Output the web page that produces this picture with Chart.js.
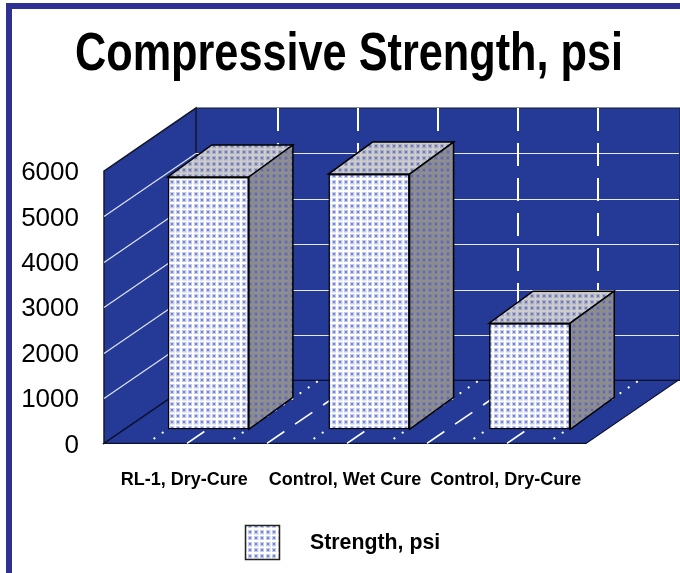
<!DOCTYPE html>
<html>
<head>
<meta charset="utf-8">
<style>
  html, body { margin: 0; padding: 0; background: #fff; }
  canvas { display: block; }
</style>
<script src="https://cdn.jsdelivr.net/npm/chart.js@4"></script>
</head>
<body>
<canvas id="chart_strength" width="680" height="573"></canvas>
<script>
const categories = ["RL-1, Dry-Cure", "Control, Wet Cure", "Control, Dry-Cure"];
const strengthValues = [5560, 5625, 2340];
const seriesName = "Strength, psi";
const chartTitle = "Compressive Strength, psi";

const WALL_BLUE = "#243a96";
const FRAME_BLUE = "#2f3092";
const DEPTH_X = 92, DEPTH_Y = -63;    // how far the back wall sits from the front plane
const BAR_SHIFT_X = 24, BAR_SHIFT_Y = -14;   // bars stand a bit inside the floor
const BAR_DEPTH_X = 44, BAR_DEPTH_Y = -32;

function makePattern(bg, grid, soft, dot){
    const tile = document.createElement("canvas");
    tile.width = 12;
    tile.height = 12;
    const c = tile.getContext("2d");
    c.fillStyle = bg;
    c.fillRect(0, 0, 12, 12);
    c.fillStyle = soft;
    [[2, 2], [8, 2], [2, 8], [8, 8]].forEach(([x, y]) => c.fillRect(x, y, 4, 4));
    c.fillStyle = grid;
    c.fillRect(0, 0, 12, 2);
    c.fillRect(0, 0, 2, 12);
    c.fillRect(7, 0, 1, 12);
    c.fillRect(0, 7, 12, 1);
    c.fillStyle = dot;
    [[3, 3], [9, 3], [3, 9], [9, 9]].forEach(([x, y]) => c.fillRect(x, y, 2, 2));
    return c.createPattern(tile, "repeat");
}

const ctx0 = document.getElementById("chart_strength").getContext("2d");
const frontPattern = makePattern("#e3e7f7", "#ffffff", "#c3cbed", "#7885d2");
const topPattern = makePattern("#bfc0ca", "#cdcdcd", "#a9adc8", "#6e79bb");
const sidePattern = makePattern("#909095", "#8c8c8c", "#7f82a0", "#5f68aa");

function polygon(ctx, pts, fill, stroke, width){
    ctx.beginPath();
    pts.forEach((p, i) => i ? ctx.lineTo(p[0], p[1]) : ctx.moveTo(p[0], p[1]));
    ctx.closePath();
    ctx.fillStyle = fill;
    ctx.fill();
    ctx.strokeStyle = stroke;
    ctx.lineWidth = width;
    ctx.stroke();
}

function strokeLine(ctx, x1, y1, x2, y2, color, width, dash, offset){
    ctx.save();
    ctx.strokeStyle = color;
    ctx.lineWidth = width;
    ctx.setLineDash(dash || []);
    ctx.lineDashOffset = offset || 0;
    ctx.beginPath();
    ctx.moveTo(x1, y1);
    ctx.lineTo(x2, y2);
    ctx.stroke();
    ctx.restore();
}

const roomPlugin = {
    id: "room3d",
    beforeDraw(chart){
        // frame of the slide
        const ctx = chart.ctx;
        ctx.save();
        ctx.fillStyle = FRAME_BLUE;
        ctx.fillRect(6, 3, 674, 6);
        ctx.fillRect(6, 3, 6, 570);
        ctx.restore();
        // title box set to the text's width, the library squeezes the text into it
        chart.titleBlock.left = 75;
        chart.titleBlock.right = 623;
    },
    beforeDatasetsDraw(chart){
        const ctx = chart.ctx;
        const {left, right, top, bottom} = chart.chartArea;
        const y = chart.scales.y;
        ctx.save();

        polygon(ctx, [[left + DEPTH_X, top + DEPTH_Y], [right + DEPTH_X + 2, top + DEPTH_Y],
                      [right + DEPTH_X + 2, bottom + DEPTH_Y], [left + DEPTH_X, bottom + DEPTH_Y]],
                WALL_BLUE, "#14182e", 1);
        polygon(ctx, [[left, top], [left + DEPTH_X, top + DEPTH_Y],
                      [left + DEPTH_X, bottom + DEPTH_Y], [left, bottom]],
                WALL_BLUE, "#14182e", 1.5);

        y.ticks.forEach(t => {
            if(t.value === 0 || t.value === y.max) return;
            const py = Math.round(y.getPixelForValue(t.value)) + 0.5;
            strokeLine(ctx, left + DEPTH_X, py + DEPTH_Y, right + DEPTH_X + 1, py + DEPTH_Y, "#e8ebf7", 1.2);
            strokeLine(ctx, left, py, left + DEPTH_X, py + DEPTH_Y, "#dfe3f4", 1.2);
        });

        polygon(ctx, [[left, bottom], [right, bottom], [right + DEPTH_X, bottom + DEPTH_Y], [left + DEPTH_X, bottom + DEPTH_Y]],
                WALL_BLUE, "#0c1030", 1.2);

        // dashed lines up the back wall and along the floor, dotted ones between them
        for(let k = 0; k < 5; k++){
            const fx = left + 83 + k * 80;
            strokeLine(ctx, fx + DEPTH_X - 1, top + DEPTH_Y, fx + DEPTH_X - 1, bottom + DEPTH_Y, "#ffffff", 2, [23, 12]);
            strokeLine(ctx, fx, bottom, fx + DEPTH_X, bottom + DEPTH_Y, "#ffffff", 1.6, [21, 13]);
        }
        for(let k = 0; k < 6; k++){
            const fx = left + 43 + k * 80;
            strokeLine(ctx, fx, bottom, fx + DEPTH_X, bottom + DEPTH_Y, "#ffffff", 2, [2, 8], -8);
        }

        ctx.restore();
        ctx.save();
        ctx.translate(BAR_SHIFT_X, BAR_SHIFT_Y);
    },
    afterDatasetsDraw(chart){
        const ctx = chart.ctx;
        chart.getDatasetMeta(0).data.forEach(bar => {
            const l = bar.x - bar.width / 2, r = bar.x + bar.width / 2;
            polygon(ctx, [[l, bar.y], [r, bar.y], [r + BAR_DEPTH_X, bar.y + BAR_DEPTH_Y], [l + BAR_DEPTH_X, bar.y + BAR_DEPTH_Y]],
                    topPattern, "#000000", 1.5);
            polygon(ctx, [[r, bar.y], [r + BAR_DEPTH_X, bar.y + BAR_DEPTH_Y], [r + BAR_DEPTH_X, bar.base + BAR_DEPTH_Y], [r, bar.base]],
                    sidePattern, "#000000", 1.5);
        });
        ctx.restore();
    },
    afterDraw(chart){
        // legend
        const ctx = chart.ctx;
        ctx.save();
        ctx.fillStyle = frontPattern;
        ctx.fillRect(245.5, 525.5, 34, 34);
        ctx.strokeStyle = "#222222";
        ctx.lineWidth = 1.5;
        ctx.strokeRect(245.5, 525.5, 34, 34);
        ctx.fillStyle = "#000000";
        ctx.font = "bold 21.3px 'Liberation Sans'";
        ctx.textAlign = "left";
        ctx.textBaseline = "middle";
        ctx.fillText(seriesName, 310, 543);
        ctx.restore();
    }
};

new Chart(ctx0, {
    type: "bar",
    plugins: [roomPlugin],
    data: {
        labels: categories,
        datasets: [{
            label: seriesName,
            data: strengthValues,
            backgroundColor: frontPattern,
            borderColor: "#000000",
            borderWidth: 1.5,
            borderSkipped: false,
            categoryPercentage: 1,
            barPercentage: 0.505
        }]
    },
    options: {
        responsive: false,
        animation: false,
        layout: { padding: { left: 18, right: 94, top: 0, bottom: 64 } },
        plugins: {
            legend: { display: false },
            tooltip: { enabled: false },
            title: {
                display: true,
                text: chartTitle,
                color: "#000000",
                font: { family: "'Liberation Sans'", weight: "bold", size: 53, lineHeight: 1.17 },
                padding: { top: 24, bottom: 85 }
            }
        },
        scales: {
            x: {
                grid: { display: false },
                border: { display: false },
                ticks: {
                    color: "#000000",
                    font: { family: "'Liberation Sans'", weight: "bold", size: 18 },
                    padding: 18,
                    maxRotation: 0,
                    autoSkip: false
                }
            },
            y: {
                min: 0,
                max: 6000,
                afterFit(scale){ scale.width = 86; },
                grid: { display: false, drawTicks: false },
                border: { display: false },
                ticks: {
                    stepSize: 1000,
                    color: "#000000",
                    font: { family: "'Liberation Sans'", size: 26 },
                    padding: 25,
                    labelOffset: 2,
                    callback: v => String(v)
                }
            }
        }
    }
});
</script>
</body>
</html>
